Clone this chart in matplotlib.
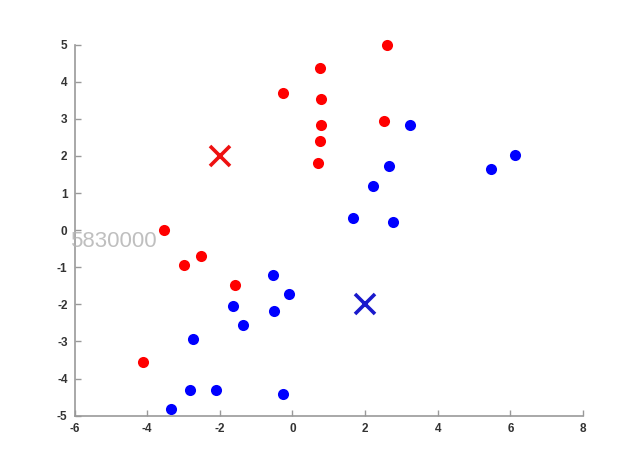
import numpy as np
import matplotlib.pyplot as plt

# cluster 1 (red)
red_x = [2.61, 0.76, -0.26, 0.79, 0.79, 2.52, 0.76, 0.71, -3.54, -2.99, -2.52, -1.58, -4.12]
red_y = [4.99, 4.37, 3.70, 3.54, 2.83, 2.94, 2.40, 1.81, 0.00, -0.94, -0.70, -1.48, -3.55]

# cluster 2 (blue)
blue_x = [3.24, 2.66, 2.22, 1.66, 2.76, 6.12, 5.47, -2.73, -2.82, -2.11, -3.35,
          -1.35, -0.25, -1.64, -0.53, -0.09, -0.50]
blue_y = [2.83, 1.74, 1.19, 0.34, 0.22, 2.02, 1.66, -2.93, -4.31, -4.31, -4.83,
          -2.56, -4.42, -2.05, -1.21, -1.72, -2.18]

# centroids
cent_x = [-2, 2]
cent_y = [2, -2]

xticks = [-6, -4, -2, 0, 2, 4, 6, 8]
yticks = [-5, -4, -3, -2, -1, 0, 1, 2, 3, 4, 5]

plt.rcParams['font.family'] = ['Liberation Sans', 'DejaVu Sans']
plt.rcParams['axes.unicode_minus'] = False

fig = plt.figure(figsize=(6.19, 4.51), dpi=100)
ax = fig.add_axes([0.1204, 0.0783, 0.8214, 0.8226])

ax.plot(red_x, red_y, 'o', color='#ff0000', markersize=8, markeredgewidth=0, clip_on=False)
ax.plot(blue_x, blue_y, 'o', color='#0000ff', markersize=8, markeredgewidth=0, clip_on=False)
ax.plot(cent_x[0], cent_y[0], 'x', color='#ee1111', markersize=14, markeredgewidth=2.6)
ax.plot(cent_x[1], cent_y[1], 'x', color='#1a1acc', markersize=14, markeredgewidth=2.6)

ax.set_xlim(-6, 8)
ax.set_ylim(-5, 5)
ax.set_xticks(xticks)
ax.set_yticks(yticks)

for s in ['top', 'right']:
    ax.spines[s].set_visible(False)
for s in ['left', 'bottom']:
    ax.spines[s].set_color('#999999')
    ax.spines[s].set_linewidth(1.2)

ax.tick_params(direction='in', length=4, width=1, color='#999999',
               labelsize=8.5, labelcolor='#333333', pad=5)
for lbl in ax.get_xticklabels() + ax.get_yticklabels():
    lbl.set_fontweight('bold')

# watermark
fig.text(70 / 619, 1 - 247 / 451, '5830000', fontsize=16, color='#b4b4b4',
         alpha=0.85, ha='left', va='baseline')

fig.savefig('out.png', dpi=100)
